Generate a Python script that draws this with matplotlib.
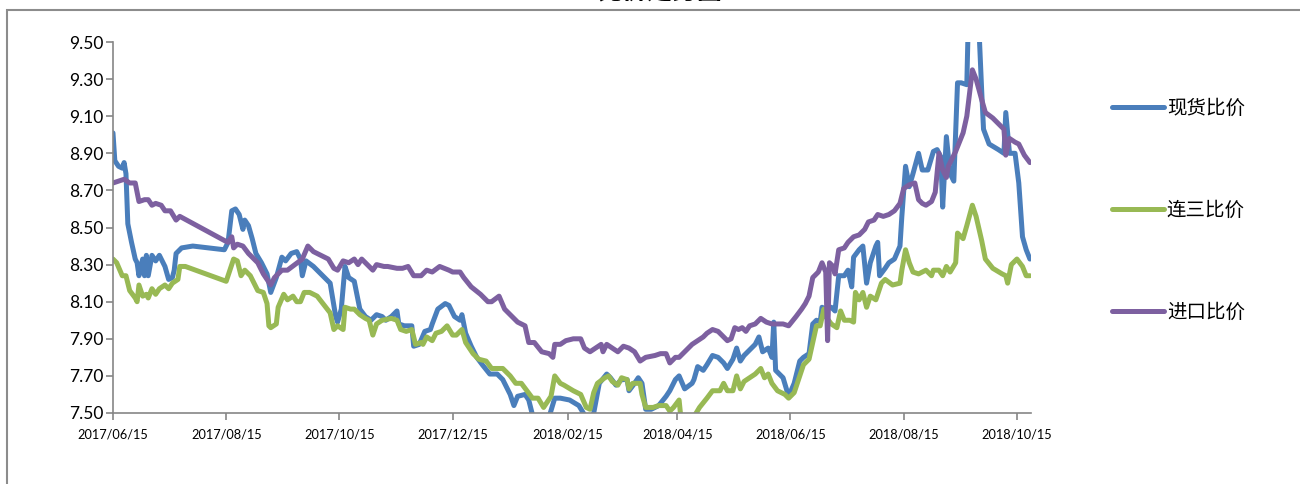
import numpy as np
import pandas as pd
import matplotlib
matplotlib.use('Agg')
import matplotlib.pyplot as plt
import matplotlib.dates as mdates
from matplotlib.patches import Rectangle

# =========================
# 数据 (从图上读取, 以 2017/06/15 起的天数计)
# =========================
start_date = '2017-06-15'

series_names = ['现货比价', '连三比价', '进口比价']
series_colors = ['#4A7EBB', '#98B954', '#7D60A0']

blue_day = [0, 1, 3, 5, 6, 7, 8, 10, 12, 13, 14, 16, 17, 18, 19, 21, 23, 25, 28, 30,
            32, 33, 34, 37, 43, 60, 62, 64, 66, 68, 70, 71, 73, 75, 77, 80, 83, 85, 88, 91,
            93, 96, 99, 101, 102, 104, 108, 117, 120, 121, 123, 125, 127, 130, 133, 136, 139, 142, 145, 147,
            150, 153, 154, 157, 161, 162, 165, 168, 171, 172, 175, 179, 181, 184, 187, 188, 190, 193, 196, 199,
            203, 207, 210, 214, 216, 218, 222, 224, 226, 232, 235, 238, 241, 246, 251, 254, 257, 259, 262, 266,
            268, 271, 274, 277, 278, 281, 283, 285, 287, 290, 294, 298, 300, 303, 305, 308, 312, 313, 315, 318,
            320, 323, 326, 329, 331, 334, 336, 338, 340, 343, 346, 348, 350, 353, 355, 356, 357, 361, 364, 367,
            370, 372, 375, 377, 379, 381, 382, 384, 387, 389, 391, 394, 396, 398, 399, 402, 404, 406, 408, 411,
            412, 413, 416, 418, 421, 424, 425, 427, 429, 431, 434, 436, 439, 442, 444, 446, 447, 449, 451, 453,
            455, 457, 460, 461, 466, 468, 469, 472, 477, 480, 481, 483, 486, 488, 490, 492, 494]
blue_val = [9.01, 8.86, 8.83, 8.82, 8.85, 8.79, 8.52, 8.42, 8.33, 8.31, 8.24, 8.33, 8.24, 8.35, 8.24, 8.35, 8.32, 8.35, 8.29, 8.22,
            8.23, 8.27, 8.36, 8.39, 8.40, 8.38, 8.42, 8.59, 8.60, 8.57, 8.49, 8.54, 8.51, 8.44, 8.36, 8.31, 8.25, 8.15, 8.23, 8.34,
            8.32, 8.36, 8.37, 8.33, 8.24, 8.32, 8.29, 8.20, 8.02, 7.99, 8.06, 8.29, 8.23, 8.21, 8.06, 8.02, 8.00, 8.03, 8.02, 8.00,
            8.02, 8.05, 7.98, 7.97, 7.97, 7.86, 7.87, 7.94, 7.95, 7.98, 8.06, 8.09, 8.08, 8.02, 8.00, 8.03, 7.93, 7.86, 7.80, 7.76,
            7.71, 7.71, 7.68, 7.60, 7.54, 7.59, 7.60, 7.57, 7.49, 7.45, 7.48, 7.58, 7.58, 7.57, 7.54, 7.49, 7.44, 7.50, 7.66, 7.71,
            7.69, 7.65, 7.68, 7.68, 7.62, 7.66, 7.69, 7.66, 7.52, 7.52, 7.54, 7.59, 7.62, 7.68, 7.70, 7.63, 7.66, 7.68, 7.75, 7.73,
            7.76, 7.81, 7.80, 7.77, 7.74, 7.79, 7.85, 7.78, 7.81, 7.84, 7.87, 7.91, 7.83, 7.85, 7.80, 7.99, 7.73, 7.69, 7.59, 7.66,
            7.78, 7.80, 7.82, 7.98, 8.00, 7.99, 8.07, 8.06, 8.07, 8.05, 8.24, 8.24, 8.27, 8.18, 8.34, 8.38, 8.40, 8.20, 8.31, 8.40,
            8.42, 8.24, 8.28, 8.31, 8.33, 8.40, 8.56, 8.83, 8.72, 8.79, 8.90, 8.81, 8.81, 8.91, 8.92, 8.88, 8.61, 8.99, 8.79, 8.75,
            9.28, 9.28, 9.27, 9.70, 9.70, 9.24, 9.03, 8.95, 8.92, 8.90, 9.12, 8.90, 8.90, 8.74, 8.45, 8.38, 8.33]

green_day = [0, 2, 5, 7, 9, 12, 13, 14, 16, 18, 19, 21, 23, 25, 28, 30, 32, 35, 36, 39,
             61, 63, 65, 67, 69, 71, 74, 76, 78, 81, 83, 84, 85, 88, 89, 92, 94, 97, 99, 101,
             103, 106, 110, 117, 119, 121, 124, 125, 128, 130, 133, 136, 138, 140, 142, 145, 150, 153, 155, 158,
             161, 163, 166, 167, 169, 172, 174, 177, 180, 183, 185, 188, 190, 194, 197, 201, 204, 207, 210, 214,
             217, 220, 223, 226, 229, 232, 236, 238, 241, 243, 248, 252, 255, 257, 259, 261, 265, 267, 269, 272,
             274, 277, 278, 280, 284, 285, 287, 291, 294, 298, 300, 302, 305, 306, 310, 313, 316, 320, 323, 327,
             329, 331, 334, 336, 338, 340, 343, 346, 349, 351, 353, 355, 358, 362, 364, 367, 370, 372, 375, 377,
             379, 381, 383, 384, 387, 390, 392, 394, 397, 399, 400, 402, 404, 406, 408, 411, 414, 416, 420, 424,
             425, 427, 429, 431, 434, 438, 441, 442, 445, 447, 449, 451, 454, 455, 458, 460, 463, 465, 468, 470,
             474, 479, 481, 482, 484, 487, 490, 492, 494]
green_val = [8.33, 8.31, 8.24, 8.24, 8.16, 8.12, 8.10, 8.19, 8.13, 8.14, 8.12, 8.17, 8.14, 8.17, 8.19, 8.17, 8.20, 8.22, 8.29, 8.29,
             8.21, 8.27, 8.33, 8.32, 8.24, 8.27, 8.24, 8.20, 8.16, 8.15, 8.09, 7.97, 7.96, 7.98, 8.07, 8.14, 8.11, 8.13, 8.10, 8.10,
             8.15, 8.15, 8.13, 8.04, 7.95, 7.97, 7.95, 8.07, 8.06, 8.06, 8.03, 8.01, 8.00, 7.92, 7.98, 8.00, 8.01, 8.00, 7.95, 7.94,
             7.95, 7.87, 7.88, 7.87, 7.91, 7.89, 7.93, 7.94, 7.97, 7.92, 7.92, 7.95, 7.88, 7.82, 7.79, 7.78, 7.74, 7.74, 7.74, 7.70,
             7.66, 7.66, 7.62, 7.58, 7.58, 7.53, 7.59, 7.70, 7.66, 7.65, 7.62, 7.60, 7.53, 7.52, 7.61, 7.66, 7.69, 7.70, 7.67, 7.65,
             7.69, 7.68, 7.63, 7.66, 7.66, 7.60, 7.53, 7.53, 7.54, 7.54, 7.51, 7.53, 7.57, 7.47, 7.47, 7.48, 7.53, 7.58, 7.62, 7.62,
             7.66, 7.62, 7.62, 7.70, 7.63, 7.67, 7.69, 7.71, 7.74, 7.69, 7.71, 7.66, 7.62, 7.60, 7.58, 7.61, 7.70, 7.76, 7.79, 7.88,
             7.97, 7.97, 8.06, 8.02, 7.98, 7.96, 8.05, 8.00, 8.00, 7.99, 8.15, 8.11, 8.15, 8.07, 8.13, 8.11, 8.20, 8.22, 8.19, 8.20,
             8.27, 8.38, 8.31, 8.26, 8.25, 8.27, 8.24, 8.27, 8.27, 8.24, 8.29, 8.26, 8.31, 8.47, 8.44, 8.51, 8.62, 8.56, 8.43, 8.33,
             8.28, 8.25, 8.24, 8.20, 8.30, 8.33, 8.29, 8.24, 8.24]

purple_day = [0, 3, 6, 9, 12, 14, 17, 19, 21, 23, 26, 28, 31, 34, 36, 60, 62, 64, 65, 67,
              70, 73, 76, 78, 81, 85, 87, 91, 94, 98, 102, 105, 108, 112, 116, 119, 121, 124, 127, 130,
              132, 134, 137, 140, 142, 146, 148, 153, 156, 159, 162, 166, 169, 172, 176, 181, 183, 187, 189, 193,
              198, 202, 204, 208, 211, 215, 218, 222, 224, 227, 231, 235, 237, 238, 241, 244, 248, 252, 254, 257,
              260, 263, 264, 266, 269, 272, 275, 278, 281, 284, 287, 292, 295, 298, 300, 303, 305, 307, 310, 312,
              315, 318, 320, 323, 326, 329, 331, 333, 335, 337, 339, 341, 343, 346, 349, 352, 355, 358, 361, 364,
              368, 371, 373, 375, 377, 380, 382, 384, 385, 386, 388, 389, 391, 394, 396, 399, 402, 405, 407, 410,
              412, 415, 418, 421, 424, 426, 429, 432, 434, 436, 438, 441, 443, 445, 447, 449, 450, 454, 458, 460,
              463, 465, 468, 470, 474, 477, 480, 481, 483, 486, 488, 491, 494]
purple_val = [8.74, 8.75, 8.76, 8.74, 8.74, 8.64, 8.65, 8.65, 8.62, 8.63, 8.62, 8.59, 8.59, 8.54, 8.56, 8.43, 8.42, 8.45, 8.39, 8.41,
              8.40, 8.36, 8.33, 8.31, 8.25, 8.19, 8.23, 8.27, 8.27, 8.30, 8.33, 8.40, 8.37, 8.35, 8.33, 8.28, 8.27, 8.32, 8.31, 8.33,
              8.30, 8.33, 8.30, 8.27, 8.30, 8.29, 8.29, 8.28, 8.28, 8.29, 8.24, 8.24, 8.27, 8.26, 8.29, 8.27, 8.26, 8.26, 8.23, 8.18,
              8.14, 8.10, 8.10, 8.13, 8.06, 8.02, 7.99, 7.97, 7.88, 7.88, 7.83, 7.82, 7.80, 7.87, 7.87, 7.89, 7.90, 7.90, 7.85, 7.83,
              7.85, 7.87, 7.83, 7.87, 7.85, 7.83, 7.86, 7.85, 7.83, 7.78, 7.80, 7.81, 7.82, 7.82, 7.77, 7.80, 7.80, 7.82, 7.85, 7.87,
              7.89, 7.91, 7.93, 7.95, 7.94, 7.91, 7.89, 7.90, 7.96, 7.95, 7.96, 7.94, 7.97, 7.98, 8.01, 7.99, 7.98, 7.98, 7.98, 7.97,
              8.02, 8.06, 8.09, 8.13, 8.23, 8.26, 8.31, 8.26, 7.89, 8.31, 8.29, 8.25, 8.38, 8.39, 8.42, 8.45, 8.46, 8.49, 8.53, 8.54,
              8.57, 8.56, 8.57, 8.59, 8.63, 8.71, 8.73, 8.74, 8.65, 8.63, 8.62, 8.64, 8.69, 8.90, 8.81, 8.77, 8.83, 8.91, 9.01, 9.10,
              9.35, 9.30, 9.19, 9.12, 9.09, 9.06, 9.03, 8.89, 8.98, 8.96, 8.95, 8.89, 8.85]

y_ticks = [7.50, 7.70, 7.90, 8.10, 8.30, 8.50, 8.70, 8.90, 9.10, 9.30, 9.50]
x_tick_dates = ['2017-06-15', '2017-08-15', '2017-10-15', '2017-12-15', '2018-02-15',
                '2018-04-15', '2018-06-15', '2018-08-15', '2018-10-15']
title_text = '比价走势图'

# =========================
# 字体
# =========================
plt.rcParams['font.family'] = ['Lato', 'Noto Sans CJK SC', 'DejaVu Sans']

base = pd.Timestamp(start_date)


def to_dates(days):
    return base + pd.to_timedelta(days, unit='D')


# =========================
# 画图
# =========================
fig = plt.figure(figsize=(13, 4.84), dpi=100)
ax = fig.add_axes([0.0869, 0.1467, 0.7062, 0.7665])

all_days = [blue_day, green_day, purple_day]
all_vals = [blue_val, green_val, purple_val]

for days, vals, name, color in zip(all_days, all_vals, series_names, series_colors):
    ax.plot(
        to_dates(days),
        vals,
        color=color,
        linewidth=3.6,
        solid_capstyle='round',
        solid_joinstyle='round',
        label=name
    )

ax.set_ylim(7.5, 9.5)
ax.set_xlim(base, base + pd.Timedelta(days=494.6))

ax.set_yticks(y_ticks)
ax.yaxis.set_major_formatter(matplotlib.ticker.FormatStrFormatter('%.2f'))
ax.set_xticks(pd.to_datetime(x_tick_dates))
ax.xaxis.set_major_formatter(mdates.DateFormatter('%Y/%m/%d'))

for side in ['top', 'right']:
    ax.spines[side].set_visible(False)
for side in ['left', 'bottom']:
    ax.spines[side].set_color('#868686')
    ax.spines[side].set_linewidth(1.2)

ax.tick_params(axis='both', direction='out', length=5, width=1.2, color='#868686')
ax.tick_params(axis='y', labelsize=12.5, pad=2)
ax.tick_params(axis='x', labelsize=9.2, pad=6)

# 图例
fig.legend(
    loc='center left',
    bbox_to_anchor=(0.855, 0.567),
    frameon=False,
    fontsize=14,
    handlelength=2.7,
    handletextpad=0.15,
    labelspacing=4.3,
    borderpad=0,
    borderaxespad=0
)

# 标题 (原图中被截去大半)
fig.text(0.508, 0.993, title_text, ha='center', va='bottom',
         fontsize=18, fontweight='bold')

# 外框
fig.patches.append(Rectangle(
    (7 / 1300, -0.05), 1.0, 1 - 10 / 484 + 0.05,
    transform=fig.transFigure, fill=False,
    edgecolor='#8c8c8c', linewidth=1.5
))

fig.savefig('out.png', dpi=100)
